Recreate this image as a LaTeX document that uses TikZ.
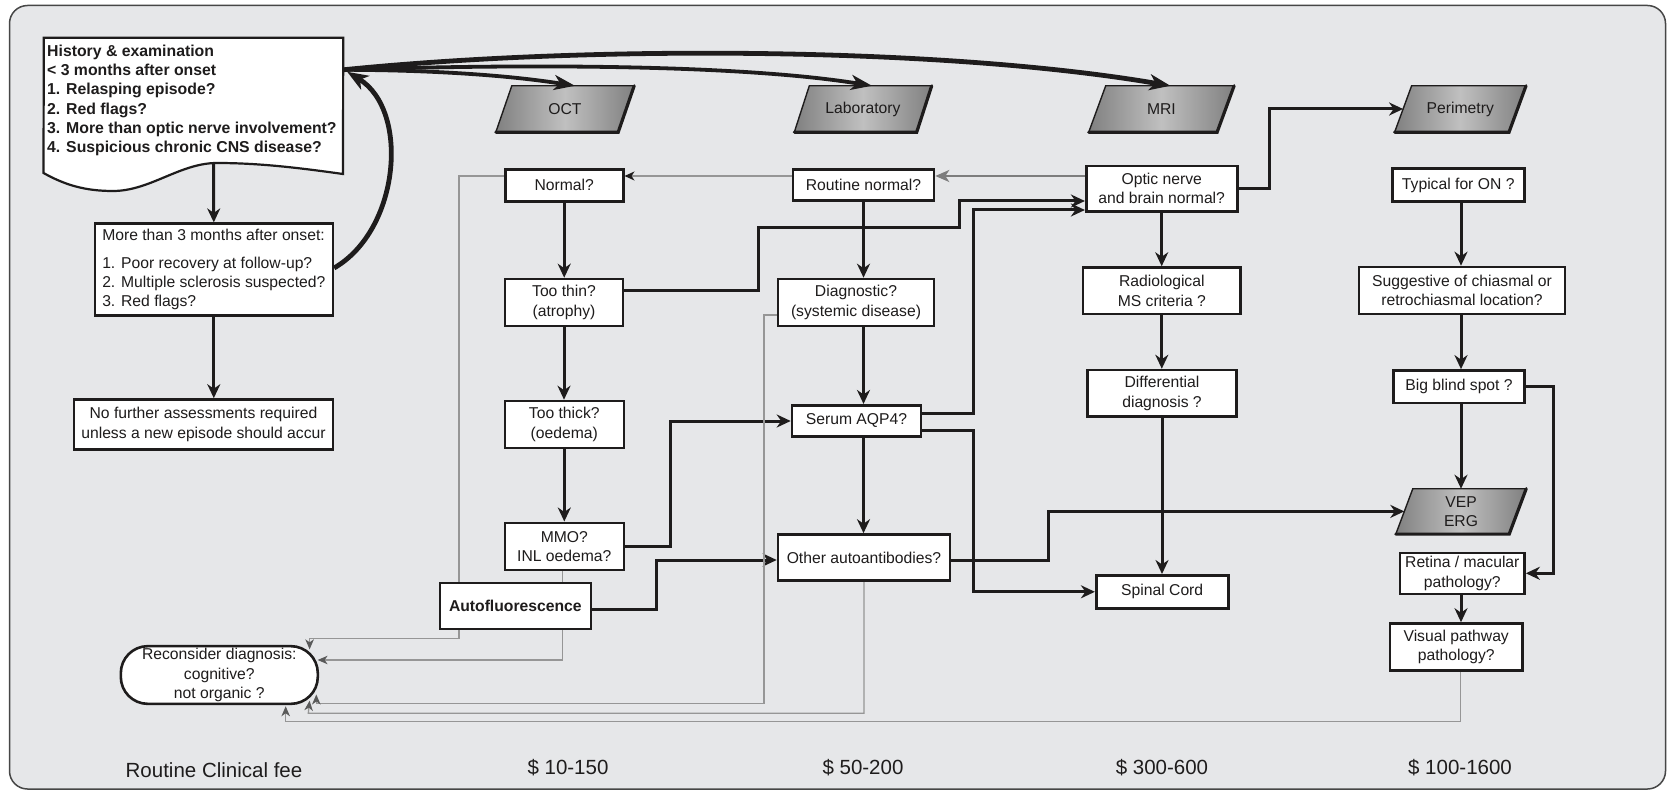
\documentclass[tikz,border=0pt]{standalone}
\usepackage{fontspec}
\setmainfont{Liberation Sans}
\usetikzlibrary{arrows.meta,calc}
\pgfdeclarelayer{bg}
\pgfdeclarelayer{shp}
\pgfdeclarelayer{edg}
\pgfsetlayers{bg,shp,edg,main}
\definecolor{pagebg}{RGB}{230,231,233}
\definecolor{frame}{RGB}{70,70,70}
\definecolor{ink}{RGB}{30,28,28}
\definecolor{gline}{RGB}{150,150,150}
\definecolor{ghead}{RGB}{90,90,90}
\definecolor{pdark}{RGB}{128,128,128}
\definecolor{plight}{RGB}{192,192,192}
\definecolor{garrow}{RGB}{125,125,125}
\newcommand\boxfnt{\fontsize{15.7}{19.3}\selectfont}
\newcommand\histfnt{\fontsize{15.8}{19.3}\selectfont\bfseries}
\newcommand\feefnt{\fontsize{20.5}{24}\selectfont}
\newcommand\drawpara[2]{%
  \shade[left color=pdark, right color=pdark, middle color=plight]
    ($(#1.north west)+(#2,0)$) -- ($(#1.north east)+(#2,0)$) -- ($(#1.south east)+(-#2,0)$) -- ($(#1.south west)+(-#2,0)$) -- cycle;
  \draw[ink, line width=1.4pt, line join=miter]
    ($(#1.north west)+(#2,0)$) -- ($(#1.north east)+(#2,0)$) -- ($(#1.south east)+(-#2,0)$) -- ($(#1.south west)+(-#2,0)$) -- cycle;
  \draw[ink, line width=3.2pt, line join=miter, line cap=round]
    ($(#1.north east)+(#2,0)$) -- ($(#1.south east)+(-#2,0)$) -- ($(#1.south west)+(-#2,0)$);
}
\begin{document}
\begin{tikzpicture}[x=1pt,y=-1pt,
  box/.style={draw=ink, line width=2.6pt, fill=white, inner sep=0pt, align=center, font=\boxfnt, text=ink},
  pnode/.style={inner sep=0pt, align=center, font=\boxfnt, text=ink, minimum height=46pt},
  arr/.style={draw=ink, line width=3pt, -{Stealth[length=14pt,width=13pt,inset=4.5pt]}},
  bigarr/.style={draw=ink, line width=4.8pt, -{Stealth[length=21pt,width=16pt,inset=6pt]}},
  midarr/.style={draw=ink, line width=3.8pt, -{Stealth[length=21pt,width=15pt,inset=6pt]}},
  garr/.style={draw=gline, line width=1.3pt, -{Stealth[length=10pt,width=8.5pt,inset=3pt,color=ghead]}},
  fee/.style={font=\feefnt, text=ink, inner sep=0pt},
]
\begin{pgfonlayer}{bg}
\fill[white] (0,0) rectangle (1669,791);
\draw[frame, fill=pagebg, line width=1.5pt, rounded corners=18pt] (9.5,5.5) rectangle (1665.5,789);
\end{pgfonlayer}
\useasboundingbox (0,0) rectangle (1669,791);

% history document shape
\node[minimum width=299pt, minimum height=137pt, inner sep=0pt] (hist) at (193.5,106.5) {};
\draw[ink, line width=2.2pt, fill=white, line join=miter]
  (43.5,173) -- (hist.north west) -- (hist.north east) -- (343,174)
  .. controls (300,168) and (260,163) .. (217,163)
  .. controls (180,163) and (150,191) .. (113,191)
  .. controls (85,191) and (65,185) .. (43.5,173) -- cycle;
\node[anchor=north west, align=left, inner sep=0pt, font=\histfnt, text=ink] (histtxt) at (47,44.5)
  {History \& examination\\< 3 months after onset\\1. Relasping episode?\\2. Red flags?\\3. More than optic nerve involvement?\\4. Suspicious chronic CNS disease?};

% left column
\node[box, minimum width=238pt, minimum height=92pt, align=left] (more) at (213.8,269.7)
  {More than 3 months after onset:\\[8pt]1. Poor recovery at follow-up?\\2. Multiple sclerosis suspected?\\3. Red flags?};
\node[box, minimum width=259pt, minimum height=50pt] (nofur) at (203.5,424.5)
  {No further assessments required\\unless a new episode should accur};
\node[box, minimum width=197pt, minimum height=57.7pt, rounded corners=27pt] (recon) at (219.3,675)
  {Reconsider diagnosis:\\cognitive?\\not organic ?};

% OCT column
\node[pnode, minimum width=122pt] (oct) at (565,109) {OCT};
\node[box, minimum width=118pt, minimum height=32pt] (normal) at (564.2,185.3) {Normal?};
\node[box, minimum width=118pt, minimum height=47pt] (thin) at (564,302.5) {Too thin?\\(atrophy)};
\node[box, minimum width=119pt, minimum height=47pt] (thick) at (564.3,424.5) {Too thick?\\(oedema)};
\node[box, minimum width=119pt, minimum height=47pt] (mmo) at (564.3,546.3) {MMO?\\INL oedema?};
\node[box, minimum width=151pt, minimum height=46pt, font=\boxfnt\bfseries] (auto) at (515.3,606) {Autofluorescence};

% Laboratory column
\node[pnode, minimum width=122pt] (lab) at (863,109) {Laboratory};
\node[box, minimum width=141pt, minimum height=31.5pt] (routine) at (863.5,185) {Routine normal?};
\node[box, minimum width=156pt, minimum height=47pt] (diag) at (856,302.5) {Diagnostic?\\(systemic disease)};
\node[box, minimum width=129pt, minimum height=31.5pt] (aqp) at (856.5,421) {Serum AQP4?};
\node[box, minimum width=172pt, minimum height=46pt] (other) at (864,557.5) {Other autoantibodies?};

% MRI column
\node[pnode, minimum width=128pt] (mri) at (1161.4,109) {MRI};
\node[box, minimum width=151pt, minimum height=45.5pt] (optic) at (1161.7,188.7) {Optic nerve\\and brain normal?};
\node[box, minimum width=157.5pt, minimum height=46.5pt] (radio) at (1161.8,290.8) {Radiological\\MS criteria ?};
\node[box, minimum width=148.5pt, minimum height=46.5pt] (diff) at (1162,393.3) {Differential\\diagnosis ?};
\node[box, minimum width=132pt, minimum height=33pt] (spinal) at (1162.2,591.8) {Spinal Cord};

% Perimetry column
\node[pnode, minimum width=114pt] (perim) at (1460.3,109) {Perimetry};
\node[box, minimum width=132pt, minimum height=32.5pt] (typical) at (1458.2,185) {Typical for ON ?};
\node[box, minimum width=206pt, minimum height=47pt] (sugg) at (1462,290.5) {Suggestive of chiasmal or\\retrochiasmal location?};
\node[box, minimum width=131pt, minimum height=32.5pt] (blind) at (1459,386.7) {Big blind spot ?};
\node[pnode, minimum width=113pt, minimum height=45pt] (vep) at (1461,511.4) {VEP\\ERG};
\node[box, minimum width=124.5pt, minimum height=41pt] (retina) at (1462.3,573.3) {Retina / macular\\pathology?};
\node[box, minimum width=132.5pt, minimum height=47pt] (visual) at (1456.2,647) {Visual pathway\\pathology?};

% fees
\node[fee] (feeR) at (214,770) {Routine Clinical fee};
\node[fee] (fee1) at (568,768) {\$ 10-150};
\node[fee] (fee2) at (863,768) {\$ 50-200};
\node[fee] (fee3) at (1162,768) {\$ 300-600};
\node[fee] (fee4) at (1460,768) {\$ 100-1600};

% parallelogram shapes
\begin{pgfonlayer}{shp}
\drawpara{oct}{8}
\drawpara{lab}{7.5}
\drawpara{mri}{8.5}
\drawpara{perim}{8.5}
\drawpara{vep}{8.5}
\end{pgfonlayer}

\begin{pgfonlayer}{edg}
% big curves
\coordinate (hr) at ($(hist.north east)+(0,32)$);
\coordinate (hr2) at ($(hist.north east)+(4,34)$);
\coordinate (hb) at (213.5,163);
\draw[midarr] (hr) .. controls (420,70) and (500,74) .. ($(oct.north)+(10,0)$);
\draw[midarr] (hr) .. controls (550,63) and (750,66) .. ($(lab.north)+(9,0)$);
\draw[bigarr] (hr) .. controls (600,44) and (950,48) .. ($(mri.north)+(9,0)$);
\draw[bigarr] ($(more.east)+(0,-1.7)$) .. controls (400,230) and (410,110) .. (hr2);

% left column arrows
\draw[arr] (hb) -- (more.north);
\draw[arr] (more.south) -- (more.south |- nofur.north);

% OCT column
\draw[arr] (normal.south) -- (normal.south |- thin.north);
\draw[arr] (thin.south) -- (thin.south |- thick.north);
\draw[arr] (thick.south) -- (thick.south |- mmo.north);
\draw[arr] ($(thin.east)+(0,-11.5)$) -| (758,227.7) -| (959.3,201) -- ($(optic.west)+(0,12.3)$);
\draw[arr] (mmo.east) -- ++(45.7,0) |- (aqp.west);
\draw[arr] ($(auto.east)+(0,3.3)$) -- ++(64.4,0) |- ($(other.west)+(0,2.5)$);

% Laboratory column
\draw[arr] (routine.south) -- (routine.south |- diag.north);
\draw[arr] (routine.south |- diag.south) -- (routine.south |- aqp.north);
\draw[arr] (routine.south |- aqp.south) -- (routine.south |- other.north);
\draw[arr] ($(aqp.east)+(0,-7.7)$) -| (973,210) -- ($(optic.west)+(0,21.3)$);
\draw[arr] ($(aqp.east)+(0,9)$) -| (973,591.8) -- (spinal.west);
\draw[arr] ($(other.east)+(0,2.5)$) -- ++(97,0) |- (vep.west);

% MRI column
\draw[arr] (optic.south) -- (optic.south |- radio.north);
\draw[arr] (radio.south) -- (radio.south |- diff.north);
\draw[arr] (diff.south) -- (diff.south |- spinal.north);
\draw[arr] (optic.east) -- ++(31.3,0) |- (perim.west);

% Perimetry column
\draw[arr] (typical.south -| vep.north) -- (sugg.north -| vep.north);
\draw[arr] (sugg.south -| vep.north) -- (blind.north -| vep.north);
\draw[arr] (blind.south -| vep.north) -- (vep.north);
\draw[arr] (retina.south -| vep.north) -- (visual.north -| vep.north);
\draw[arr] (blind.east) -- ++(28,0) |- (retina.east);

% grey feedback lines
\coordinate (r1) at ($(routine.west)+(0,-9)$);
\coordinate (o1) at ($(optic.west)+(0,-12.7)$);
\draw[draw=gline, line width=1.3pt, -{Stealth[length=10pt,width=9pt,inset=3pt,color=ink]}] (r1) -- (r1 -| normal.east);
\draw[draw=garrow, line width=2.2pt, -{Stealth[length=14pt,width=12pt,inset=4pt,color=garrow]}] (o1) -- (o1 -| routine.east);
\draw[garr] ($(normal.west)+(0,-9.3)$) -| (459,638.3) -| ($(recon.north east)+(-9.5,4.5)$);
\draw[garr] ($(mmo.south)+(-1.6,0)$) |- ($(recon.east)+(-1.5,-15)$);
\draw[garr] ($(diag.west)+(0,12.5)$) -| (764,703.3) -| ($(recon.east)+(-2.8,19.5)$);
\draw[garr] (other.south) |- (308.3,713.3) -- ($(recon.south east)+(-9.5,-4.5)$);
\draw[garr] ($(visual.south)+(4.6,0)$) |- (285.7,721.7) -- ($(recon.south)+(66.4,1.1)$);
\end{pgfonlayer}
\end{tikzpicture}
\end{document}
